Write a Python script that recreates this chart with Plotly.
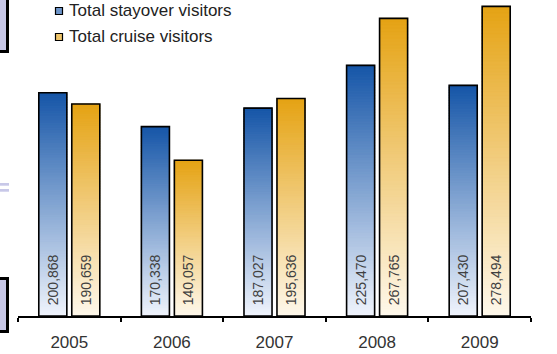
import plotly.graph_objects as go

years = ["2005", "2006", "2007", "2008", "2009"]
stayover = [200868, 170338, 187027, 225470, 207430]
cruise = [190659, 140057, 195636, 267765, 278494]
series_names = ["Total stayover visitors", "Total cruise visitors"]

W, H = 557, 354
ML, MR, MT, MB = 18, 26, 0, 38
PW, PH = W - ML - MR, H - MT - MB

def px(x):
    return (x - ML) / PW

def py(y):
    return (H - MB - y) / PH

def lerp(c1, c2, t):
    return "rgb(%d,%d,%d)" % tuple(round(a + (b - a) * t) for a, b in zip(c1, c2))

blue_top, blue_bot = (22, 86, 168), (240, 244, 252)
orng_top, orng_bot = (229, 163, 20), (254, 248, 236)

N = 90
fig = go.Figure()
for vals, top, bot, grp in [(stayover, blue_top, blue_bot, "s"), (cruise, orng_top, orng_bot, "c")]:
    for k in range(N):
        t = (k + 0.5) / N
        col = lerp(bot, top, t)
        seg = [v / N for v in vals]
        fig.add_trace(go.Bar(
            x=years, y=[s * (1.3 if k < N - 1 else 1.0) for s in seg],
            base=[s * k for s in seg], offsetgroup=grp,
            marker=dict(color=col, line=dict(width=0.8, color=col)),
            showlegend=False, hoverinfo="skip"))
    fig.add_trace(go.Bar(
        x=years, y=vals, offsetgroup=grp,
        marker=dict(color="rgba(0,0,0,0)", line=dict(color="black", width=1.6)),
        text=["\u00a0\u00a0" + f"{v:,}" for v in vals], textposition="inside",
        insidetextanchor="start", textangle=-90,
        textfont=dict(family="Liberation Sans, Arial", size=14, color="#404040"),
        showlegend=False, hoverinfo="skip", cliponaxis=False))

shapes = []
for cy, top, bot in [(11, blue_top, blue_bot), (37, orng_top, orng_bot)]:
    shapes.append(dict(type="rect", xref="paper", yref="paper",
                       x0=px(55.5), x1=px(62.5), y0=py(cy - 3.5), y1=py(cy + 3.5),
                       fillcolor=lerp(bot, top, 0.6), line=dict(color="black", width=1.2)))
lav = "#c8c8e8"
shapes.append(dict(type="rect", xref="paper", yref="paper", x0=px(-10), x1=px(7.5),
                   y0=py(-10), y1=py(51.5), fillcolor=lav, line=dict(color="black", width=3)))
shapes.append(dict(type="rect", xref="paper", yref="paper", x0=px(-10), x1=px(7.5),
                   y0=py(278.5), y1=py(331.5), fillcolor=lav, line=dict(color="black", width=3)))
for yy in (183, 189):
    shapes.append(dict(type="rect", xref="paper", yref="paper", x0=px(0), x1=px(9),
                       y0=py(yy), y1=py(yy + 2.7), fillcolor=lav, line=dict(width=0)))

annotations = []
for cy, name in [(11, series_names[0]), (37, series_names[1])]:
    annotations.append(dict(xref="paper", yref="paper", x=px(67), y=py(cy),
                            xanchor="left", yanchor="middle", showarrow=False, text=name,
                            font=dict(family="Liberation Sans, Arial", size=17, color="#222")))

fig.update_layout(
    width=W, height=H, margin=dict(l=ML, r=MR, t=MT, b=MB),
    paper_bgcolor="white", plot_bgcolor="white",
    barmode="group", bargap=0.357, bargroupgap=0.15,
    shapes=shapes, annotations=annotations,
    xaxis=dict(type="category", categoryarray=years, showline=True, linecolor="black",
               linewidth=1.5, ticks="outside", ticklen=4, tickcolor="black", tickwidth=1.5,
               tickson="boundaries", showgrid=False, ticklabelstandoff=10,
               tickfont=dict(family="Liberation Sans, Arial", size=17, color="#333")),
    yaxis=dict(range=[0, 284270], visible=False, showgrid=False),
)
fig.write_html("out.html")
